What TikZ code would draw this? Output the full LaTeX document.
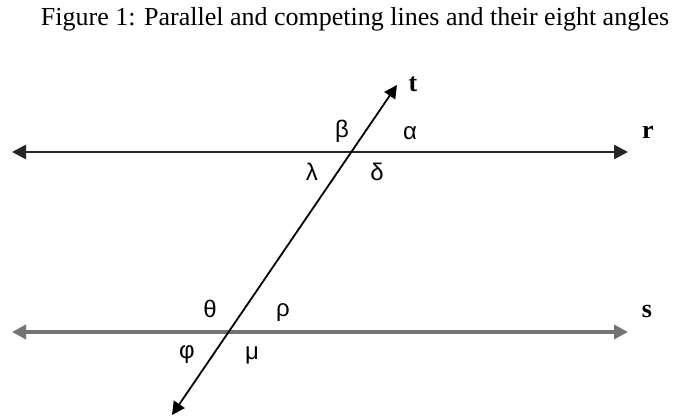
\documentclass[tikz,border=0pt]{standalone}
\usepackage{fontspec}
\setmainfont{Liberation Serif}
\newfontfamily\greekfont{Liberation Sans}
\usetikzlibrary{arrows.meta}

\begin{document}
\begin{tikzpicture}[x=0.5pt,y=-0.5pt,
  axis/.style={line width=1.4pt,{Triangle[length=7pt,width=7pt]}-{Triangle[length=7pt,width=7pt]}},
  cross/.style={line width=0.9pt,{Triangle[length=6.5pt,width=6.5pt]}-{Triangle[length=6.5pt,width=6.5pt]}},
  ang/.style={font=\greekfont\fontsize{12}{14}\selectfont,inner sep=0pt},
  lname/.style={font=\bfseries\fontsize{13}{15}\selectfont,inner sep=0pt}]
  \useasboundingbox (0,0) rectangle (682,416);
  \node[font=\fontsize{13}{15}\selectfont] (title) at (355,19) {Figure 1: Parallel and competing lines and their eight angles};
  \coordinate (rl) at (12,152); \coordinate (rr) at (628,152);
  \coordinate (sl) at (12,332); \coordinate (sr) at (628,332);
  \coordinate (tb) at (172,415); \coordinate (tt) at (397,85);
  \draw[axis,black!85] (rl) -- (rr);
  \draw[axis,black!55,line width=1.8pt] (sl) -- (sr);
  \draw[cross] (tb) -- (tt);
  \node[lname] (t) at (413,84) {t};
  \node[lname] (r) at (648,132) {r};
  \node[lname] (s) at (647,312) {s};
  \node[ang] (beta) at (342,131) {β};  \node[ang] (alpha) at (410,133) {α};
  \node[ang] (lambda) at (312,172) {λ}; \node[ang] (delta) at (377,172) {δ};
  \node[ang] (theta) at (210,309) {θ}; \node[ang] (rho) at (283,313) {ρ};
  \node[ang] (phi) at (187,355) {φ};   \node[ang] (mu) at (252,355) {μ};
\end{tikzpicture}
\end{document}
